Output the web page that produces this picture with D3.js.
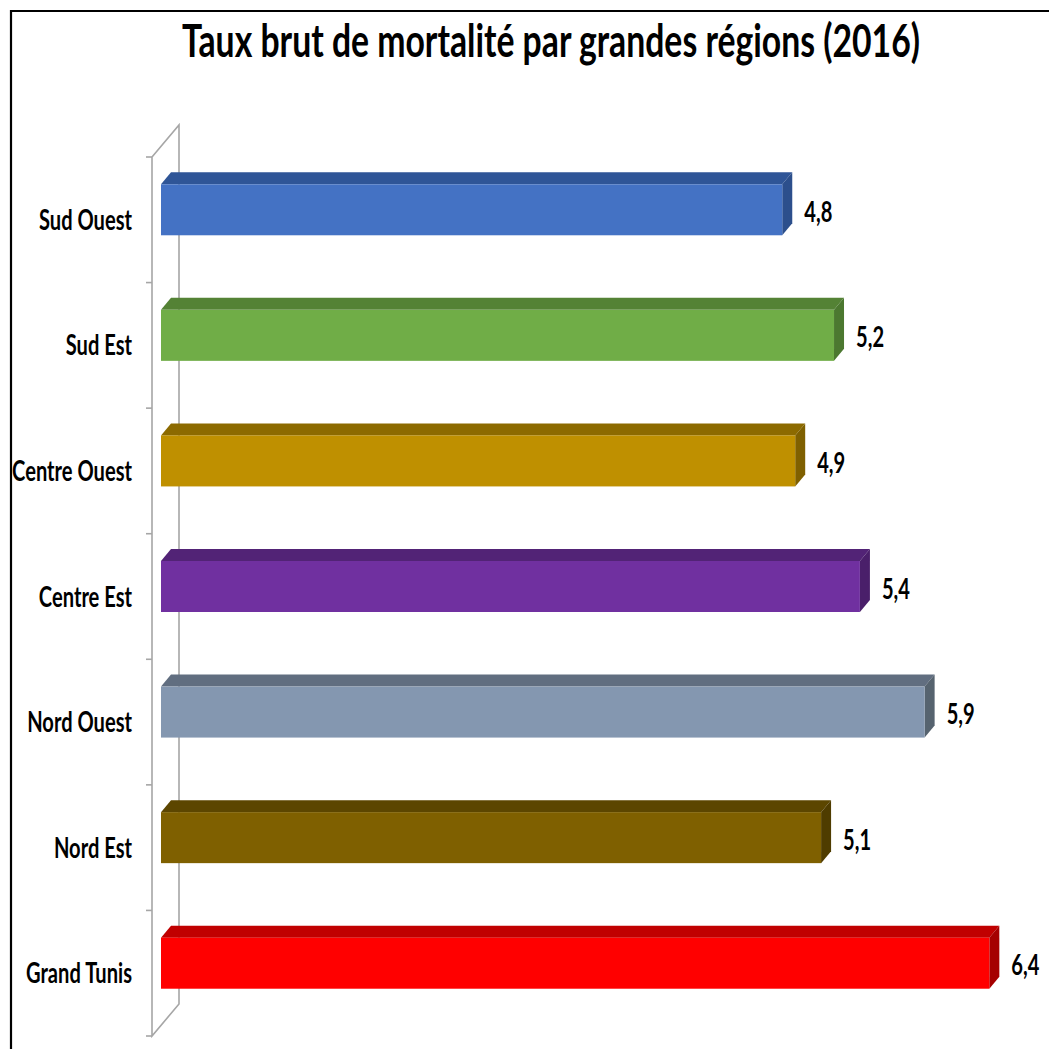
<!DOCTYPE html>
<html><head><meta charset="utf-8">
<script src="https://cdn.jsdelivr.net/npm/d3@7"></script>
<style>html,body{margin:0;padding:0;background:#fff;}svg{display:block;}</style>
</head><body>
<svg id="c" width="1049" height="1049"></svg>
<script>
const title = "Taux brut de mortalité par grandes régions (2016)";
const categories = ["Sud Ouest","Sud Est","Centre Ouest","Centre Est","Nord Ouest","Nord Est","Grand Tunis"];
const values = [4.8, 5.2, 4.9, 5.4, 5.9, 5.1, 6.4];
const frontColors = ["#4472C4","#70AD47","#BF9000","#7030A0","#8497B0","#7F6000","#FF0000"];
const topColors   = ["#2F5597","#548235","#8C6A00","#522376","#616E80","#5C4600","#C00000"];
const sideColors  = ["#2C4F8C","#4C7830","#7F6000","#4A1F6A","#56636F","#4F3C00","#A50000"];

const svg = d3.select("#c");
const FONT = "Lato, 'Open Sans', 'DejaVu Sans', sans-serif";
const fmt = d3.formatLocale({decimal:",", thousands:" ", grouping:[3], currency:["",""]}).format(".1f");

// frame
svg.append("path").attr("d","M11,1049 V11 H1049").attr("fill","none").attr("stroke","#000").attr("stroke-width",2.2);

// title
svg.append("text").attr("x",551).attr("y",57).attr("text-anchor","middle")
  .attr("font-family",FONT).attr("font-weight","bold").attr("font-size",46)
  .attr("textLength",738).attr("lengthAdjust","spacingAndGlyphs")
  .attr("fill","#000").text(title);

// scales
const y = d3.scaleBand().domain(categories).range([157,1036]).padding(0);
const x = d3.scaleLinear().domain([0,7]).range([161,1067]);
const wallDx = 27, wallDy = -32;
const frontX = 152;

// wall
const g = svg.append("g").attr("fill","none").attr("stroke","#A6A6A6").attr("stroke-width",1.6);
const y0 = y.range()[0], y1 = y.range()[1];
g.append("path").attr("d",`M${frontX},${y0} V${y1} L${frontX+wallDx},${y1+wallDy} V${y0+wallDy} L${frontX},${y0}`);
// ticks at band boundaries
const bounds = categories.map(c=>y(c)).concat([y1]);
g.selectAll("line.t").data(bounds).join("line").attr("class","t")
  .attr("x1",frontX-6).attr("x2",frontX).attr("y1",d=>d).attr("y2",d=>d);

// bars
const dx = 10, dy = -12, barH = 51, off = -10;
const bars = svg.append("g").selectAll("g").data(categories).join("g");
bars.each(function(c,i){
  const sel = d3.select(this);
  const yc = y(c) + y.bandwidth()/2 + off;
  const t = yc - barH/2, b = yc + barH/2;
  const xa = x(0), xb = x(values[i]);
  sel.append("path").attr("d",`M${xa},${t} L${xa+dx},${t+dy} L${xb+dx},${t+dy} L${xb},${t}Z`).attr("fill",topColors[i]);
  sel.append("path").attr("d",`M${xb},${t} L${xb+dx},${t+dy} L${xb+dx},${b+dy} L${xb},${b}Z`).attr("fill",sideColors[i]);
  sel.append("rect").attr("x",xa).attr("y",t).attr("width",xb-xa).attr("height",barH).attr("fill",frontColors[i]);
});

// category labels
const catG = svg.append("g");
const catT = catG.selectAll("text").data(categories).join("text")
  .attr("font-family",FONT).attr("font-weight","bold").attr("font-size",28).attr("fill","#000")
  .attr("text-anchor","end").text(d=>d);
// horizontal compression to mimic the narrow font
let ref = catT.filter(d=>d==="Grand Tunis").node().getComputedTextLength();
const sx = 106/ref;
catT.attr("transform",d=>`translate(132,${y(d)+y.bandwidth()/2+10}) scale(${sx},1)`);

// value labels
svg.append("g").selectAll("text").data(categories).join("text")
  .attr("font-family",FONT).attr("font-weight","bold").attr("font-size",28).attr("fill","#000")
  .attr("transform",(d,i)=>`translate(${x(values[i])+22},${y(d)+y.bandwidth()/2+off+12}) scale(${sx},1)`)
  .text((d,i)=>fmt(values[i]));
</script>
</body></html>
